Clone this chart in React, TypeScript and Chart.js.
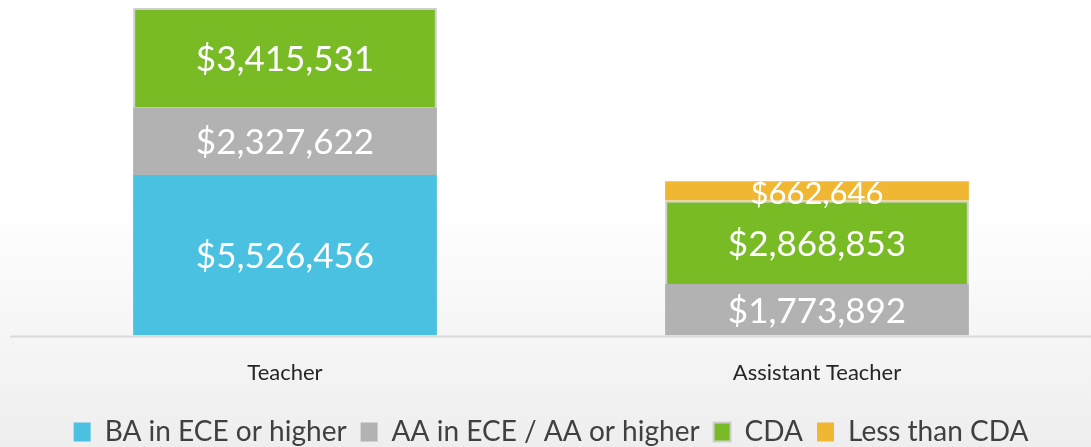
import React, { useEffect, useRef } from "react";
import { Chart, registerables } from "chart.js";

Chart.register(...registerables);

const categories = ["Teacher", "Assistant Teacher"];
const seriesNames = ["BA in ECE or higher", "AA in ECE / AA or higher", "CDA", "Less than CDA"];
const baValues = [5526456, null];
const aaValues = [2327622, 1773892];
const cdaValues = [3415531, 2868853];
const lessValues = [null, 662646];
const seriesColors = ["#4BC1E1", "#B2B2B2", "#78BB25", "#F0B832"];

const fmt = (v: number) => "$" + v.toLocaleString("en-US");

const bgPlugin = {
  id: "bgPlugin",
  beforeDraw(chart: any) {
    const { ctx, width, height } = chart;
    ctx.save();
    const g = ctx.createLinearGradient(0, 0, 0, height);
    g.addColorStop(0, "#ffffff");
    g.addColorStop(0.45, "#ffffff");
    g.addColorStop(1, "#eeeeee");
    ctx.fillStyle = g;
    ctx.fillRect(0, 0, width, height);
    ctx.restore();
  },
};

const axisLinePlugin = {
  id: "axisLinePlugin",
  afterDatasetsDraw(chart: any) {
    const { ctx, chartArea } = chart;
    ctx.save();
    ctx.strokeStyle = "#d9d9d9";
    ctx.lineWidth = 2;
    ctx.beginPath();
    ctx.moveTo(10, chartArea.bottom + 1);
    ctx.lineTo(chart.width, chartArea.bottom + 1);
    ctx.stroke();
    ctx.restore();
  },
};

const labelPlugin = {
  id: "labelPlugin",
  afterDatasetsDraw(chart: any) {
    const { ctx } = chart;
    ctx.save();
    ctx.fillStyle = "#ffffff";
    ctx.textAlign = "center";
    ctx.textBaseline = "middle";
    chart.data.datasets.forEach((ds: any, di: number) => {
      const meta = chart.getDatasetMeta(di);
      meta.data.forEach((el: any, i: number) => {
        const v = ds.data[i];
        if (v == null) return;
        const small = v < 1000000;
        ctx.font = (small ? "31px" : "35px") + " Lato, 'Open Sans', sans-serif";
        const y = (el.y + el.base) / 2 + (small ? 3 : 2);
        ctx.fillText(fmt(v), el.x, y);
      });
    });
    ctx.restore();
  },
};

export default function App() {
  const ref = useRef<HTMLCanvasElement>(null);
  useEffect(() => {
    const datasets = [baValues, aaValues, cdaValues, lessValues].map((d, i) => ({
      label: seriesNames[i],
      data: d,
      backgroundColor: seriesColors[i],
      borderColor: i === 2 ? "#cfcfcf" : seriesColors[i],
      borderWidth: i === 2 ? 2 : 0,
      barPercentage: 0.571,
      categoryPercentage: 1,
    }));
    const chart = new Chart(ref.current!, {
      type: "bar",
      data: { labels: categories, datasets },
      options: {
        animation: false,
        responsive: false,
        layout: { padding: { top: 8, left: 19, right: 8, bottom: -9 } },
        scales: {
          x: {
            stacked: true,
            grid: { display: false, drawTicks: false },
            border: { display: false },
            ticks: { color: "#262626", font: { family: "Lato, 'Open Sans', sans-serif", size: 22, lineHeight: 0.75 }, padding: 29 },
            afterFit: (scale: any) => {
              scale.height = scale.height - 6;
            },
          },
          y: {
            stacked: true,
            display: false,
            min: 0,
            max: 11269609,
          },
        },
        plugins: {
          legend: {
            position: "bottom",
            labels: {
              color: "#404040",
              font: { family: "Lato, 'Open Sans', sans-serif", size: 28 },
              boxWidth: 17,
              boxHeight: 19,
              padding: 14,
            },
          },
          tooltip: { enabled: false },
        },
      },
      plugins: [bgPlugin, axisLinePlugin, labelPlugin],
    });
    return () => chart.destroy();
  }, []);
  return (
    <div style={{ position: "fixed", left: 0, top: 0, width: 1091, height: 447 }}>
      <canvas ref={ref} width={1091} height={447} />
    </div>
  );
}
